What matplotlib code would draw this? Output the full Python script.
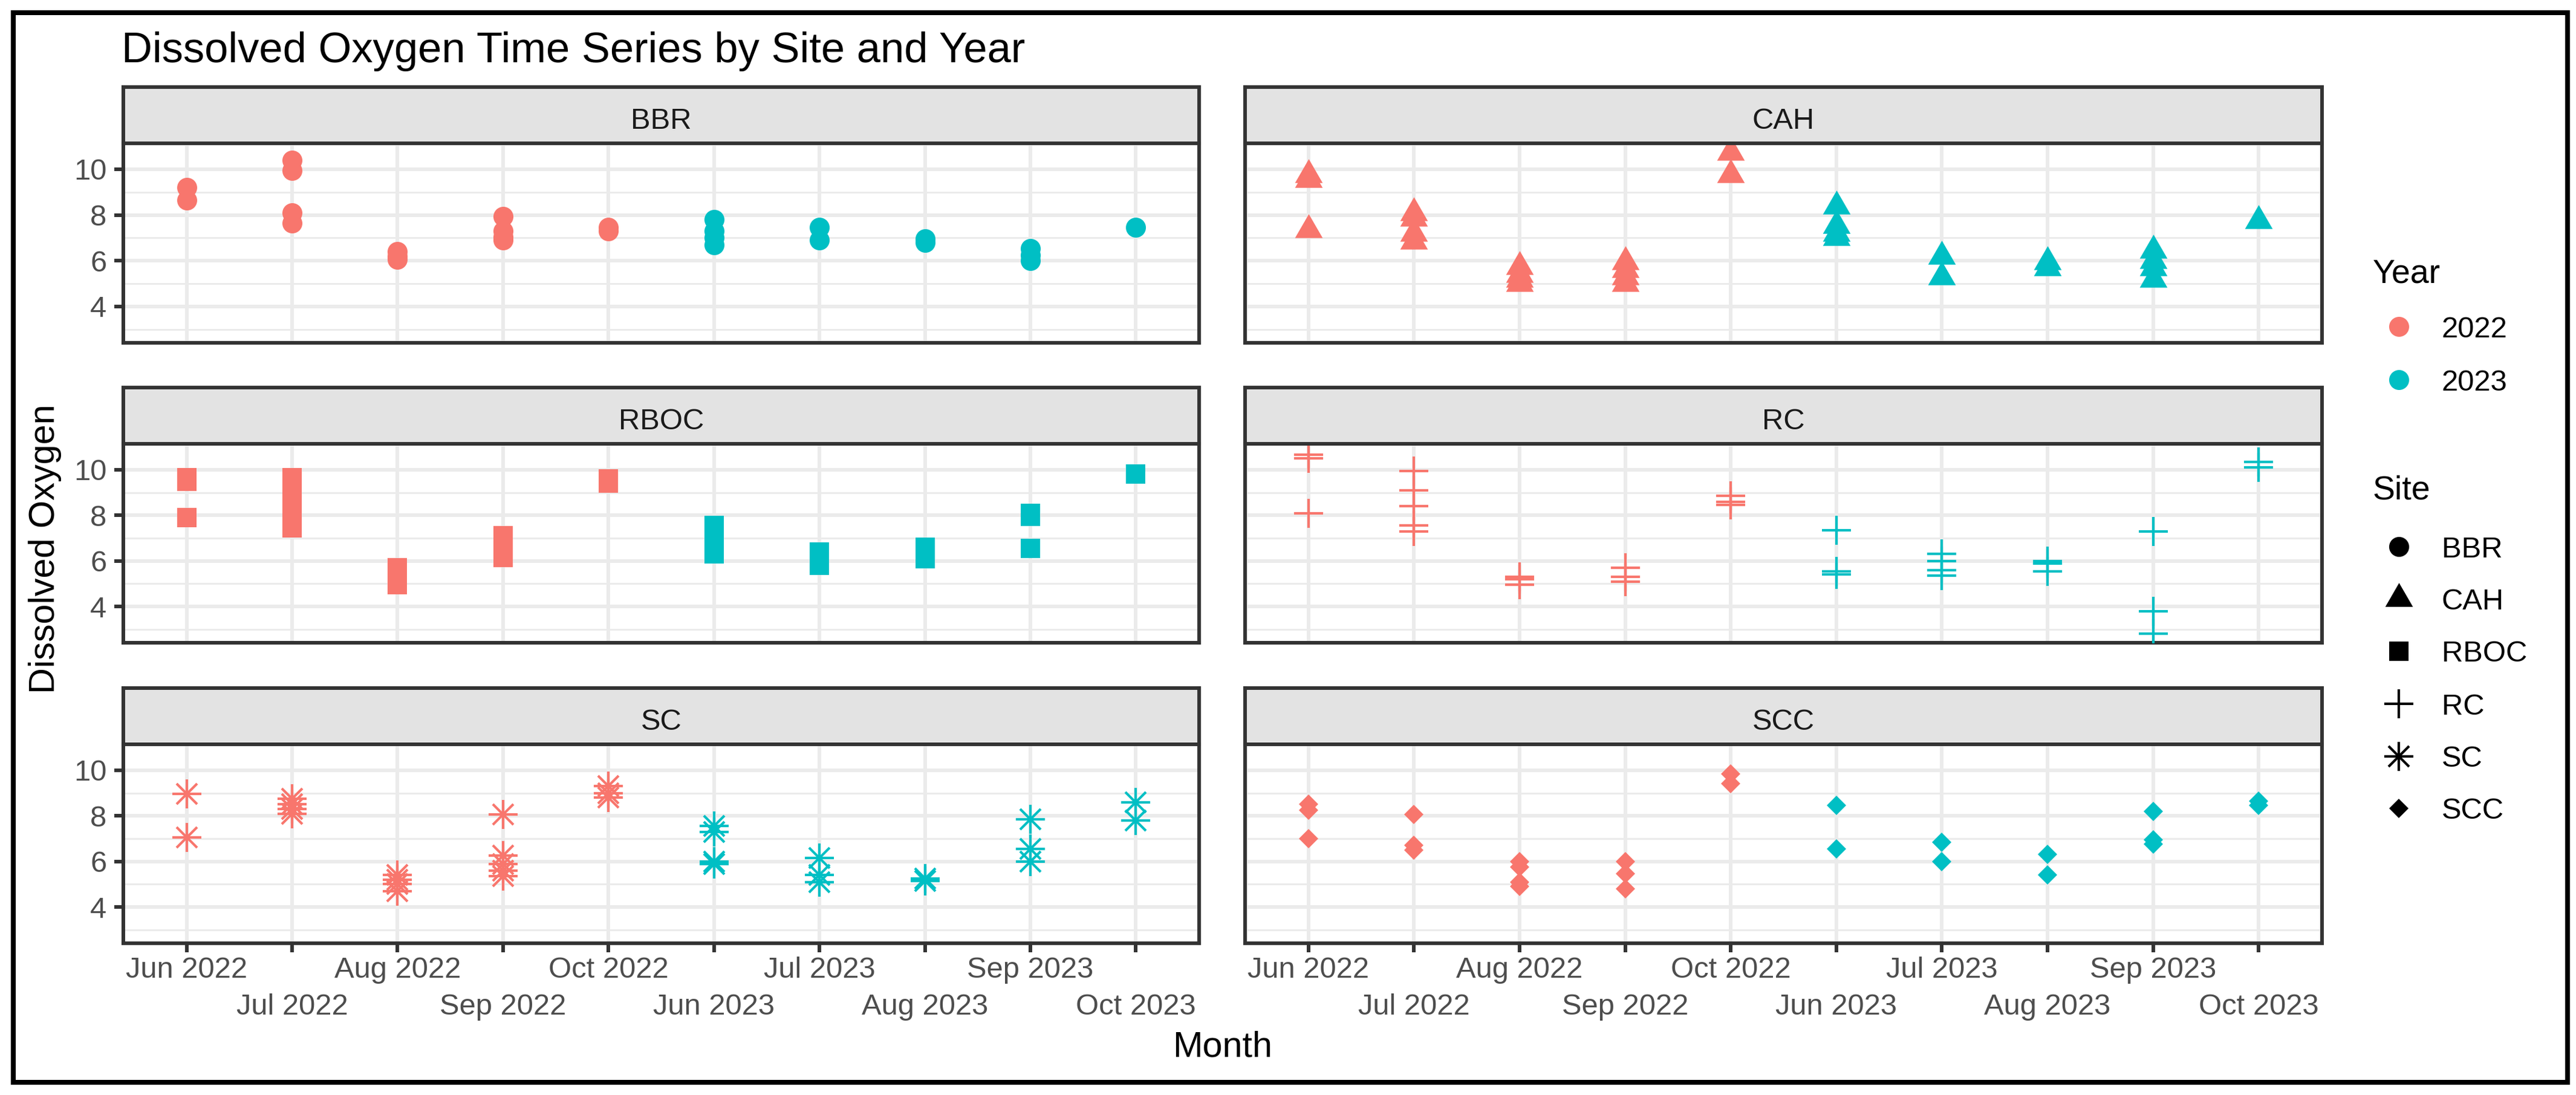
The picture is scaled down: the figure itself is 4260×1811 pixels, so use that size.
import matplotlib.pyplot as plt
from matplotlib.path import Path
from matplotlib.patches import Rectangle

plt.rcParams['font.family'] = ['Liberation Sans', 'DejaVu Sans']

# --- Daten ---
months = ["Jun 2022", "Jul 2022", "Aug 2022", "Sep 2022", "Oct 2022",
          "Jun 2023", "Jul 2023", "Aug 2023", "Sep 2023", "Oct 2023"]
month_year = ["2022", "2022", "2022", "2022", "2022",
              "2023", "2023", "2023", "2023", "2023"]
years = ["2022", "2023"]
sites = ["BBR", "CAH", "RBOC", "RC", "SC", "SCC"]

bbr_do = [[9.2, 8.65], [10.4, 9.95, 8.1, 7.65], [6.4, 6.2, 6.05],
          [7.95, 7.3, 7.05, 6.9], [7.45, 7.3], [7.8, 7.3, 7.0, 6.7],
          [7.45, 6.9], [6.95, 6.8], [6.55, 6.25, 6.0], [7.45]]
cah_do = [[9.75, 9.55, 7.35], [8.1, 7.85, 7.2, 6.85], [5.75, 5.4, 5.2, 5.0],
          [5.95, 5.6, 5.3, 5.0], [10.74, 9.75], [8.4, 7.55, 7.2, 7.0],
          [6.2, 5.3], [5.95, 5.7], [6.45, 6.0, 5.7, 5.2], [7.75]]
rboc_do = [[9.65, 9.5, 7.9], [9.65, 9.3, 8.9, 8.5, 8.1, 7.75, 7.45],
           [5.7, 5.4, 5.15, 4.95], [7.1, 6.8, 6.45, 6.15], [9.6, 9.4],
           [7.55, 7.2, 6.85, 6.5, 6.3], [6.4, 6.1, 5.8], [6.6, 6.35, 6.1],
           [8.1, 7.95, 6.55], [9.8]]
rc_do = [[10.66, 10.5, 8.1], [9.95, 9.1, 8.4, 7.55, 7.3], [5.3, 5.2, 4.95],
         [5.7, 5.3, 5.1], [8.85, 8.6, 8.45], [7.35, 5.55, 5.4],
         [6.3, 6.0, 5.6, 5.35], [6.0, 5.9, 5.55], [7.3, 3.8, 2.81],
         [10.35, 10.1]]
sc_do = [[8.95, 7.05], [8.75, 8.5, 8.3, 8.1], [5.4, 5.2, 5.0, 4.7],
         [8.05, 6.25, 5.9, 5.6, 5.35], [9.3, 9.0, 8.8], [7.55, 7.3, 6.0, 5.9],
         [6.15, 5.4, 5.1], [5.25, 5.15], [7.85, 6.55, 6.0], [8.6, 7.8]]
scc_do = [[8.5, 8.25, 7.0], [8.05, 6.7, 6.5], [6.0, 5.75, 5.1, 4.9],
          [6.0, 5.45, 4.8], [9.85, 9.4], [8.45, 6.55], [6.85, 6.0],
          [6.3, 5.4], [8.2, 6.95, 6.75], [8.65, 8.45]]

site_values = {"BBR": bbr_do, "CAH": cah_do, "RBOC": rboc_do,
               "RC": rc_do, "SC": sc_do, "SCC": scc_do}

# --- Stil ---
year_colors = {"2022": "#F8766D", "2023": "#00BFC4"}
tri = Path([(0, 1), (-0.866, -0.5), (0.866, -0.5), (0, 1)],
           [Path.MOVETO, Path.LINETO, Path.LINETO, Path.CLOSEPOLY])
# pro Site: Liste von (marker, markersize, markeredgewidth)
site_markers = {
    "BBR": [("o", 5.95, 0)],
    "CAH": [(tri, 9.5, 0)],
    "RBOC": [("s", 5.7, 0)],
    "RC": [("+", 8.5, 0.75)],
    "SC": [("+", 8.5, 0.75), ("x", 6.0, 0.75)],
    "SCC": [("D", 4.0, 0)],
}

W, H, DPI = 4260, 1811, 400
fig = plt.figure(figsize=(W / DPI, H / DPI), dpi=DPI)
fig.patch.set_facecolor("white")


def px_box(x0, y0, x1, y1):
    return [x0 / W, 1 - y1 / H, (x1 - x0) / W, (y1 - y0) / H]


col_x = [(204, 1983), (2059, 3840)]
row_y = [(144, 237, 567), (641, 734, 1063), (1138, 1231, 1560)]

all_vals = [v for s in sites for m in site_values[s] for v in m]
lo, hi = min(all_vals), max(all_vals)
pad = 0.05 * (hi - lo)

border_c = "#333333"
grid_c = "#EBEBEB"
lw = 1.07

for k, site in enumerate(sites):
    r, c = divmod(k, 2)
    x0, x1 = col_x[c]
    s0, p0, p1 = row_y[r]
    ax = fig.add_axes(px_box(x0, p0, x1, p1))
    sax = fig.add_axes(px_box(x0, s0, x1, p0))

    for i, vals in enumerate(site_values[site]):
        col = year_colors[month_year[i]]
        for mk, ms, mew in site_markers[site]:
            ax.plot([i] * len(vals), vals, ls="none", marker=mk, ms=ms,
                    mew=mew, color=col, mfc=col, mec=col, zorder=3)

    ax.set_xlim(-0.6, len(months) - 0.4)
    ax.set_ylim(lo - pad, hi + pad)
    ax.set_xticks(range(len(months)))
    ax.set_yticks([4, 6, 8, 10])
    ax.set_yticks([3, 5, 7, 9], minor=True)
    ax.set_axisbelow(True)
    ax.grid(which="major", color=grid_c, lw=lw)
    ax.grid(which="minor", axis="y", color=grid_c, lw=lw / 2)
    for sp in ax.spines.values():
        sp.set_color(border_c)
        sp.set_linewidth(lw)
    ax.tick_params(which="minor", length=0)
    ax.tick_params(axis="both", which="major", length=2.75, width=lw,
                   color=border_c, labelcolor="#4D4D4D", labelsize=8.8,
                   pad=2.2)
    ax.set_xticklabels([])
    if c == 1:
        ax.tick_params(axis="y", length=0, labelleft=False)
    if r < 2:
        ax.tick_params(axis="x", length=0)
    else:
        for i, m in enumerate(months):
            yy = -57 / 329 if i % 2 == 0 else -118 / 329
            ax.text(i, yy, m, transform=ax.get_xaxis_transform(),
                    ha="center", va="baseline", fontsize=8.8, color="#4D4D4D")

    sax.set_facecolor("#E3E3E3")
    sax.set_xticks([])
    sax.set_yticks([])
    for sp in sax.spines.values():
        sp.set_color(border_c)
        sp.set_linewidth(lw)
    sax.text(0.5, 0.26, site, ha="center", va="baseline", fontsize=8.8,
             color="#1A1A1A", transform=sax.transAxes)

# --- Overlay für Titel, Achsentitel, Legende, Rahmen ---
lax = fig.add_axes([0, 0, 1, 1])
lax.set_xlim(0, W)
lax.set_ylim(H, 0)
lax.axis("off")

lax.text(201, 103, "Dissolved Oxygen Time Series by Site and Year",
         fontsize=12.7, ha="left", va="baseline")
lax.text(2022, 1747, "Month", fontsize=10.7, ha="center", va="baseline")
lax.text(75, 908, "Dissolved Oxygen", fontsize=10.7, ha="center",
         va="center", rotation=90)

key_x, lab_x = 3967, 4038
lax.text(3924, 467, "Year", fontsize=10, ha="left", va="baseline")
for yr, ky in zip(years, [540, 628]):
    lax.plot([key_x], [ky], ls="none", marker="o", ms=5.95, mew=0,
             color=year_colors[yr])
    lax.text(lab_x, ky + 17.5, yr, fontsize=8.8, ha="left", va="baseline")

lax.text(3924, 826, "Site", fontsize=10, ha="left", va="baseline")
for site, ky in zip(sites, [904, 990, 1077, 1164, 1251, 1337]):
    for mk, ms, mew in site_markers[site]:
        lax.plot([key_x], [ky], ls="none", marker=mk, ms=ms, mew=mew,
                 color="black", mfc="black", mec="black")
    lax.text(lab_x, ky + 17.5, site, fontsize=8.8, ha="left", va="baseline")

lax.add_patch(Rectangle((22, 21), 4224, 1769, fill=False, ec="black",
                        lw=1.44))

fig.savefig("out.png", dpi=DPI, facecolor="white")
